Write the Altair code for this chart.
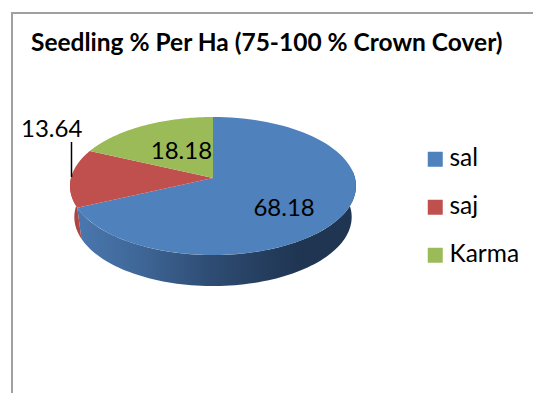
import math
import altair as alt

# Seedling share per hectare by species
species = ["sal", "saj", "Karma"]
shares = [68.18, 13.64, 18.18]
colors = ["#4F81BD", "#C0504D", "#9BBB59"]
title_text = "Seedling % Per Ha (75-100 % Crown Cover)"

# Tilted-disc geometry, in pixels around the pie's apex
APEX = [213, 178]
RX = 142.0
K = 68.07
PERSPECTIVE = 0.116
WALL_DROP = 31.0
WALL_SX = 0.97
WALL_SY = 1.0
FONT = "Lato"


def rim(theta_deg, r=1.0):
    t = math.radians(theta_deg)
    x, y = r * math.sin(t), r * math.cos(t)
    w = 1 + PERSPECTIVE * y
    return RX * x / w, K * y / w


def lower_rim(theta_deg):
    x, y = rim(theta_deg)
    return x * WALL_SX, y * WALL_SY - WALL_DROP


def sweep(a, b, n=90):
    return [a + (b - a) * i / n for i in range(n + 1)]


def feature(name, ring):
    return {
        "type": "Feature",
        "properties": {"name": name},
        "geometry": {"type": "Polygon", "coordinates": [[list(p) for p in ring]]},
    }


# Slice angles run clockwise from twelve o'clock
total = sum(shares)
edges = [0.0]
for s in shares:
    edges.append(edges[-1] + 360.0 * s / total)

tops = []
for name, a, b in zip(species, edges[:-1], edges[1:]):
    ring = [(0.0, 0.0)] + [rim(t) for t in sweep(a, b)] + [(0.0, 0.0)]
    tops.append(feature(name, ring))


def wall(name, a, b):
    angles = sweep(a, b)
    ring = [rim(t) for t in angles] + [lower_rim(t) for t in reversed(angles)]
    ring.append(ring[0])
    return feature(name, ring)


projection = dict(type="identity", reflectY=True, scale=1, translate=APEX)


def wall_layer(feat, stops):
    return alt.Chart(alt.Data(values=[feat])).mark_geoshape(
        fill=alt.Gradient(
            gradient="linear", x1=0, x2=1, y1=0, y2=0,
            stops=[alt.GradientStop(offset=o, color=c) for o, c in stops],
        ),
    ).project(**projection)


blue_wall = wall_layer(
    wall("sal", 84, edges[1]),
    [(0, "#4A77AE"), (0.2, "#40699A"), (0.5, "#2D4A70"), (0.8, "#1F3552"), (1, "#1F3552")],
)
red_wall = wall_layer(
    wall("saj", edges[1], 274),
    [(0, "#A8403E"), (1, "#B04845")],
)

top_faces = alt.Chart(alt.Data(values=tops)).mark_geoshape().encode(
    color=alt.Color(
        "properties.name:N",
        scale=alt.Scale(domain=species, range=colors),
        sort=species,
        legend=alt.Legend(
            title=None, orient="none", legendX=423, legendY=147,
            symbolType="square", symbolSize=225, symbolStrokeWidth=0,
            labelFont=FONT, labelFontSize=24.5, labelColor="#000000",
            labelOffset=2, rowPadding=23,
        ),
    )
).project(**projection)


def value_label(index, radius, dx, dy):
    mid = (edges[index] + edges[index + 1]) / 2
    px, py = rim(mid, radius)
    row = {"lon": px, "lat": py, "value": shares[index]}
    return alt.Chart(alt.Data(values=[row])).mark_text(
        font=FONT, fontSize=24, color="#000000", dx=dx, dy=dy,
    ).encode(
        longitude="lon:Q",
        latitude="lat:Q",
        text=alt.Text("value:Q", format=".2f"),
    ).project(**projection)


labels = [
    value_label(0, 0.62, -6, 7),
    value_label(1, 1.15, 2, -48),
    value_label(2, 0.5, 5, 1),
]

anchor = alt.Chart(alt.Data(values=[{"a": 1}]))

leader = anchor.mark_rule(color="#000000", strokeWidth=1.5).encode(
    x=alt.value(71.5), y=alt.value(142), y2=alt.value(177)
)
frame_left = anchor.mark_rule(color="#A0A0A0", strokeWidth=2).encode(
    x=alt.value(12), y=alt.value(12), y2=alt.value(393)
)
frame_top = anchor.mark_rule(color="#A0A0A0", strokeWidth=2).encode(
    y=alt.value(13), x=alt.value(11), x2=alt.value(533)
)
heading = anchor.mark_text(
    text=title_text, font=FONT, fontSize=24.5, fontWeight="bold",
    color="#000000", align="left", baseline="middle",
).encode(x=alt.value(31), y=alt.value(44))

chart = alt.layer(
    frame_left, frame_top, blue_wall, red_wall, top_faces, leader, *labels, heading
).properties(
    width=533, height=393, padding=0, background="#FFFFFF",
    autosize=alt.AutoSizeParams(type="none"),
).configure_view(stroke=None)

chart.save("out.html", embed_options={"renderer": "svg", "actions": False})
